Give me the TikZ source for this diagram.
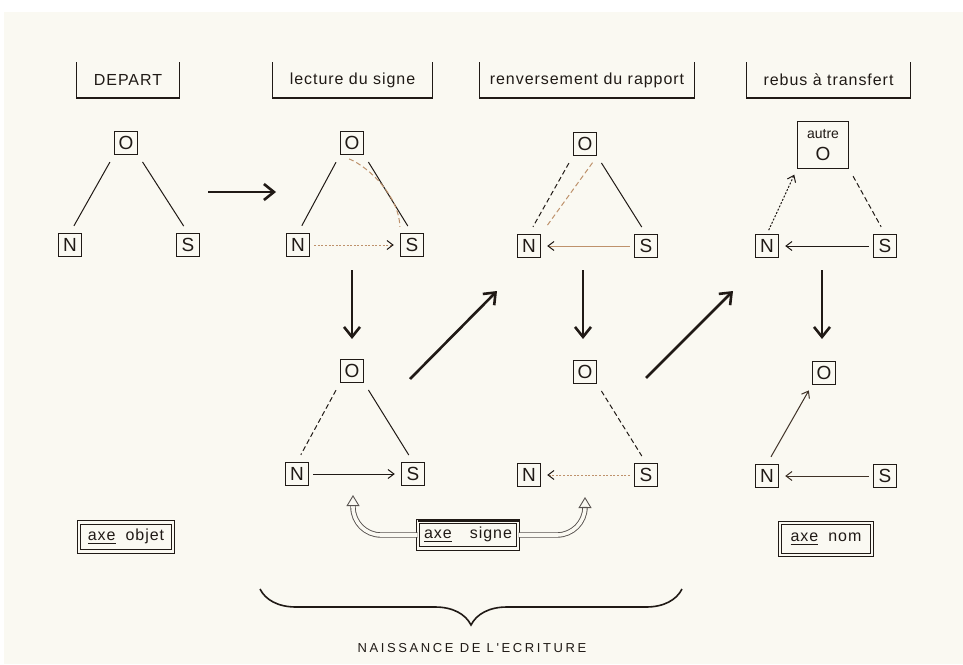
\documentclass[tikz,border=0pt]{standalone}
\usepackage{fontspec}
\setmainfont{Liberation Sans}
\newfontfamily\lettrage[LetterSpace=6]{Liberation Sans}
\newfontfamily\espace[LetterSpace=20]{Liberation Sans}
\usetikzlibrary{arrows.meta, positioning, decorations.pathreplacing}

\definecolor{encre}{RGB}{32,26,22}
\definecolor{pale}{RGB}{190,146,108}
\definecolor{papier}{RGB}{250,249,242}

\tikzset{
	case/.style={draw=encre, line width=0.7pt, minimum size=11.5pt, inner sep=0pt, text=encre, font=\fontsize{9.5}{10}\selectfont},
	titre/.style={minimum width=#1, minimum height=17.5pt, inner sep=0pt, text=encre, font=\lettrage\fontsize{8}{9}\selectfont},
	legende/.style={draw=encre, double=papier, double distance=1.4pt, line width=0.5pt, inner sep=0pt, text=encre, font=\lettrage\fontsize{8}{9}\selectfont},
	lien/.style={encre, line width=0.5pt, shorten <=4pt, shorten >=4pt},
	tiret/.style={lien, dash pattern=on 2.5pt off 1.5pt},
	fleche/.style={encre, line width=0.5pt, shorten <=2pt, shorten >=3pt, -{Straight Barb[length=3pt,width=4.5pt]}},
	flechepale/.style={fleche, pale, -{Straight Barb[length=3pt,width=4.5pt,color=encre]}},
	grosse/.style={encre, line width=1.3pt, -{Straight Barb[length=5pt,width=8pt]}},
	creuse/.style={encre!75, line width=0.45pt, double=papier, double distance=1.8pt, rounded corners=14pt, -{Triangle[open,length=5.5pt,width=6.5pt,line width=0.45pt]}}
}

\begin{document}
\begin{tikzpicture}[x=0.5pt, y=-0.5pt, on grid]
	\useasboundingbox (0,0) rectangle (963,664);
	\fill[papier] (4,12) rectangle (963,664);

	% titres
	\node[titre=51pt] (t1) at (128,80) {DEPART};
	\node[titre=79.5pt] (t2) at (352.5,80) {lecture du signe};
	\node[titre=107pt] (t3) at (587,80) {renversement du rapport};
	\node[titre=81.5pt] (t4) at (828.5,80) {rebus \`a transfert};
	\foreach \t in {t1,t2,t3,t4}
		\draw[encre, line width=0.8pt] (\t.north west) |- (\t.south east) -- (\t.north east);

	% depart
	\node[case] (o1) at (126,143) {O};
	\node[case] (n1) [below left=51pt and 28pt of o1] {N};
	\node[case] (s1) [below right=51pt and 31pt of o1] {S};
	\draw[lien] (o1.south west) -- (n1.north);
	\draw[lien] (o1.south east) -- (s1.north);

	% lecture du signe
	\node[case] (o2) at (352,143) {O};
	\node[case] (n2) [below left=51pt and 27pt of o2] {N};
	\node[case] (s2) [below right=51pt and 30pt of o2] {S};
	\draw[lien] (o2.south west) -- (n2.north);
	\draw[lien] (o2.south east) -- (s2.north);
	\draw[tiret, pale, shorten <=5pt, shorten >=3pt] (o2.south west) .. controls +(30,12) and +(0,-35) .. (s2.north west);
	\draw[flechepale, dash pattern=on 1pt off 0.8pt] (n2) -- (s2);

	\node[case] (o3) at (352,371) {O};
	\node[case] (n3) [below left=51.5pt and 27.5pt of o3] {N};
	\node[case] (s3) [below right=51.5pt and 30.5pt of o3] {S};
	\draw[tiret] (o3.south west) -- (n3.north);
	\draw[lien] (o3.south east) -- (s3.north);
	\draw[fleche] (n3) -- (s3);

	% renversement du rapport
	\node[case] (o4) at (585,144) {O};
	\node[case] (n4) [below left=51pt and 28pt of o4] {N};
	\node[case] (s4) [below right=51pt and 30.5pt of o4] {S};
	\draw[tiret] (o4.south west) -- (n4.north);
	\draw[tiret, pale] (o4.south east) -- (n4.north east);
	\draw[lien] (o4.south east) -- (s4.north);
	\draw[flechepale] (s4) -- (n4);

	\node[case] (o5) at (585,372) {O};
	\node[case] (n5) [below left=51.5pt and 28pt of o5] {N};
	\node[case] (s5) [below right=51.5pt and 30.5pt of o5] {S};
	\draw[tiret] (o5.south east) -- (s5.north);
	\draw[flechepale, dash pattern=on 1pt off 0.8pt] (s5) -- (n5);

	% rebus a transfert
	\node[case, minimum width=25.5pt, minimum height=23.5pt, align=center, inner sep=1pt] (o6) at (823,145) {{\fontsize{7}{7}\selectfont autre}\\[1pt]O};
	\node[case] (n6) [below left=50.5pt and 28pt of o6] {N};
	\node[case] (s6) [below right=50.5pt and 31pt of o6] {S};
	\draw[fleche, dash pattern=on 1pt off 0.8pt, shorten >=3pt] (n6.north) -- (o6.south west);
	\draw[tiret] (o6.south east) -- (s6.north);
	\draw[fleche] (s6) -- (n6);

	\node[case] (o7) at (824,373) {O};
	\node[case] (n7) [below left=51.5pt and 28.5pt of o7] {N};
	\node[case] (s7) [below right=51.5pt and 30.5pt of o7] {S};
	\draw[fleche, encre!80!pale, shorten <=4pt] (n7.north) -- (o7.south west);
	\draw[fleche, encre!80!pale] (s7) -- (n7);

	% grosses fleches
	\coordinate (a1) at (208,192);
	\coordinate (b1) at (276,192);
	\coordinate (a2) at (352,270);
	\coordinate (b2) at (352,339);
	\coordinate (a3) at (410,379);
	\coordinate (b3) at (497,291);
	\coordinate (a4) at (583,270);
	\coordinate (b4) at (583,339);
	\coordinate (a5) at (646,378);
	\coordinate (b5) at (733,291);
	\coordinate (a6) at (822,270);
	\coordinate (b6) at (822,339);
	\foreach \i in {1,...,6}
		\draw[grosse] (a\i) -- (b\i);

	% axes
	\node[legende, minimum width=47pt, minimum height=14.5pt] (ax1) at (126,537) {\underline{axe}\hspace{5pt}objet};
	\node[legende, minimum width=50pt, minimum height=13.5pt] (ax2) at (468,535) {\underline{axe}\hspace{9pt}signe};
	\node[legende, minimum width=46pt, minimum height=16pt] (ax3) at (826,539) {\underline{axe}\hspace{5pt}nom};
	\draw[encre, line width=1.4pt] (ax2.north west) -- (ax2.north east);
	\coordinate (p1) at (353,495);
	\coordinate (p2) at (585,497);
	\draw[creuse] (ax2.west) -| (p1);
	\draw[creuse] (ax2.east) -| (p2);

	% accolade
	\coordinate (br1) at (260,589);
	\coordinate (br2) at (682,589);
	\draw[encre, line width=0.8pt, decorate, decoration={brace, mirror, amplitude=18pt}] (br1) -- (br2);
	\node[text=encre, font=\espace\fontsize{6.5}{7}\selectfont] (nai) at (472,648) {NAISSANCE DE L'ECRITURE};
\end{tikzpicture}
\end{document}
